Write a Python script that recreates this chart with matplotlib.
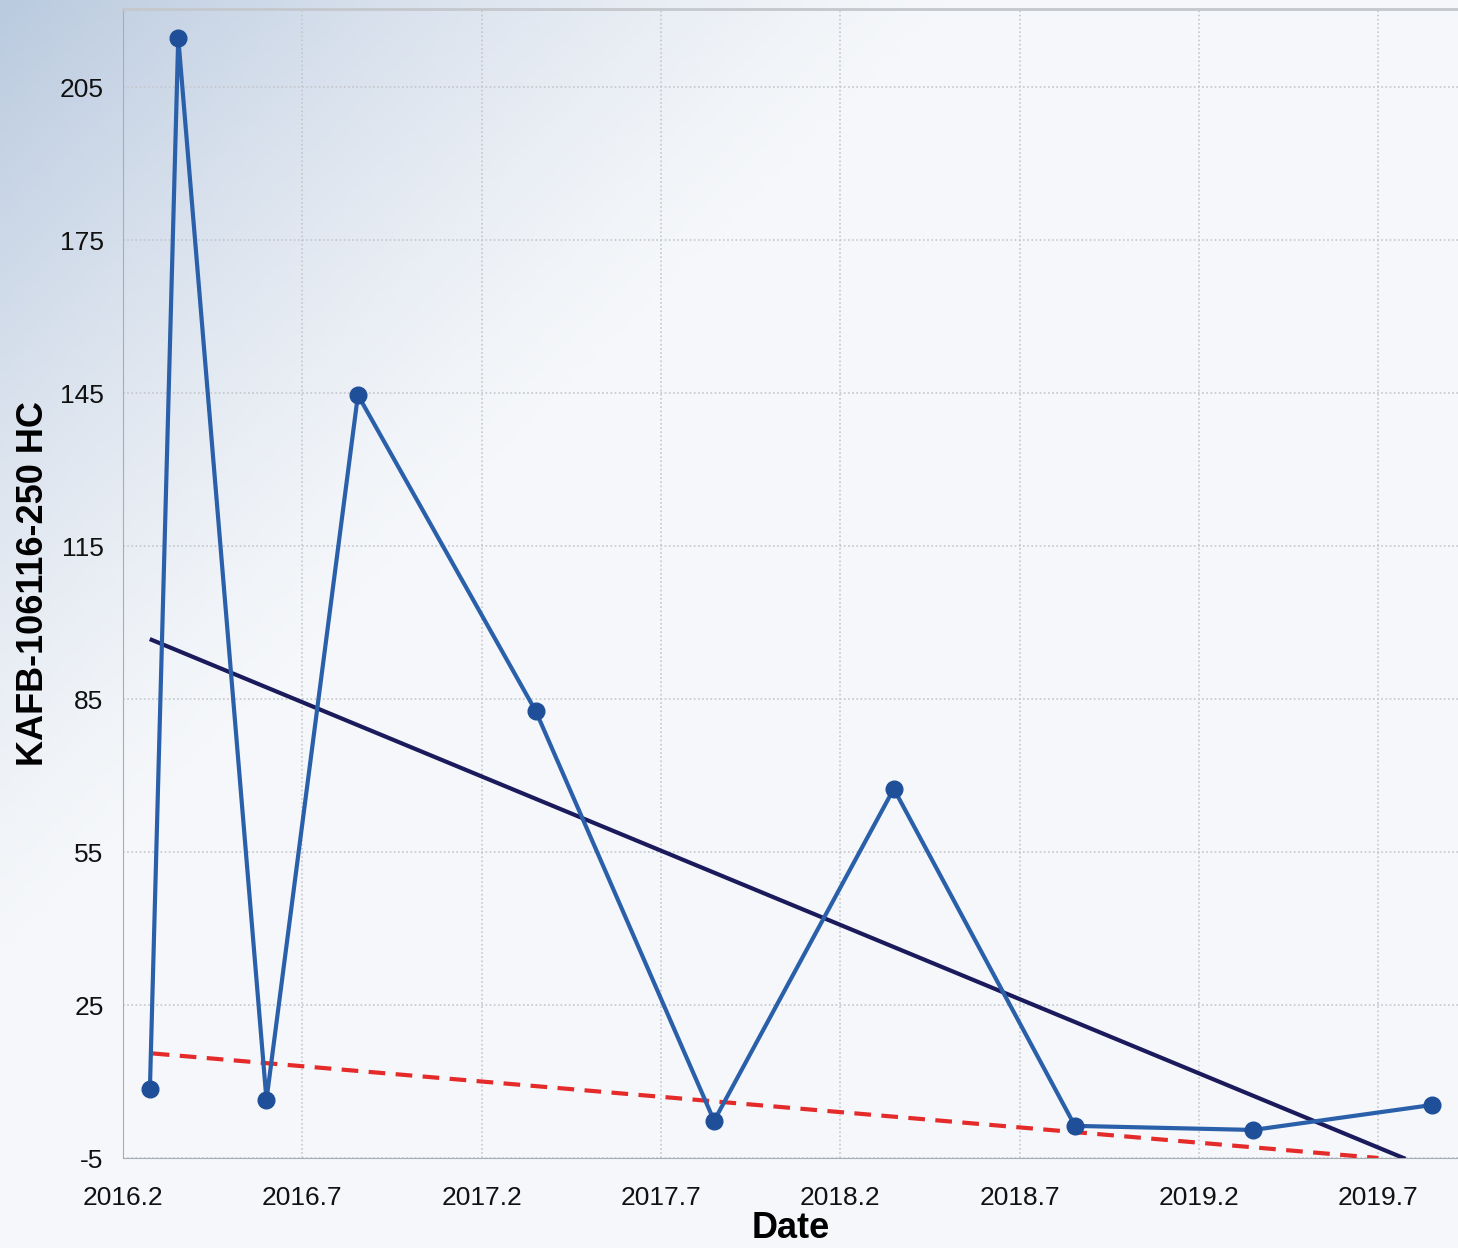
import numpy as np
import matplotlib
matplotlib.use("Agg")
import matplotlib.pyplot as plt

plt.rcParams['font.family'] = ['Liberation Sans', 'DejaVu Sans']
plt.rcParams['axes.unicode_minus'] = False

# sample dates (decimal years) and measured values
dates = [2016.275, 2016.354, 2016.600, 2016.855, 2017.351, 2017.848,
         2018.349, 2018.854, 2019.351, 2019.850]
values = [8.5, 214.7, 6.4, 144.6, 82.6, 2.3, 67.4, 1.3, 0.5, 5.4]

# trend lines (endpoints)
trend_x = [2016.28, 2019.77]
trend_y = [96.6, -5.0]
lower_x = [2016.283, 2019.70]
lower_y = [15.5, -5.0]

xticks = [2016.2, 2016.7, 2017.2, 2017.7, 2018.2, 2018.7, 2019.2, 2019.7]
yticks = [-5, 25, 55, 85, 115, 145, 175, 205]

fig = plt.figure(figsize=(14.58, 12.48), dpi=100)
fig.patch.set_facecolor('#f5f7fa')

# soft blue gradient in the top-left corner
bg = fig.add_axes([0, 0, 1, 1], zorder=0)
gx, gy = np.meshgrid(np.linspace(0, 1, 300), np.linspace(0, 1, 300))
d = gx * 1.0 + gy * 0.85
t = np.clip(1 - d / 0.65, 0, 1) ** 1.3
base = np.array([245, 247, 250]) / 255
corner = np.array([186, 202, 223]) / 255
img = base[None, None, :] * (1 - t[..., None]) + corner[None, None, :] * t[..., None]
bg.imshow(img, extent=[0, 1, 0, 1], origin='upper', aspect='auto')
bg.axis('off')

ax = fig.add_axes([123 / 1458, 1 - 1158 / 1248, 1 - 123 / 1458, (1158 - 9) / 1248], zorder=1)
ax.patch.set_alpha(0)

ax.plot(dates, values, color='#2a5faa', lw=3, marker='o', ms=12,
        mfc='#1f4f98', mec='#1f4f98', zorder=4)
ax.plot(trend_x, trend_y, color='#1a1a5c', lw=3, zorder=3)
ax.plot(lower_x, lower_y, color='#e52a2a', lw=3, ls=(0, (4, 2.5)), zorder=3)

ax.set_xlim(2016.2, 2019.922)
ax.set_ylim(-5, 220.3)
ax.set_xticks(xticks)
ax.set_xticklabels([f"{v:.1f}" for v in xticks])
ax.set_yticks(yticks)
ax.tick_params(length=0, labelsize=19, colors='#111111')
ax.tick_params(axis='x', pad=20)
ax.tick_params(axis='y', pad=14)

ax.grid(True, color='#c4c7cc', ls=(0, (1, 1.5)), lw=1.2)
ax.set_axisbelow(True)

ax.spines['right'].set_visible(False)
ax.spines['left'].set_color('#a6adb5')
ax.spines['bottom'].set_color('#a6adb5')
ax.spines['top'].set_color('#c4c8cd')
ax.spines['top'].set_linewidth(2)

ax.set_xlabel("Date", fontsize=26, fontweight='bold', labelpad=1)
ax.set_ylabel("KAFB-106116-250 HC", fontsize=26, fontweight='bold', labelpad=6)

fig.savefig("out.png", dpi=100, facecolor=fig.get_facecolor())
